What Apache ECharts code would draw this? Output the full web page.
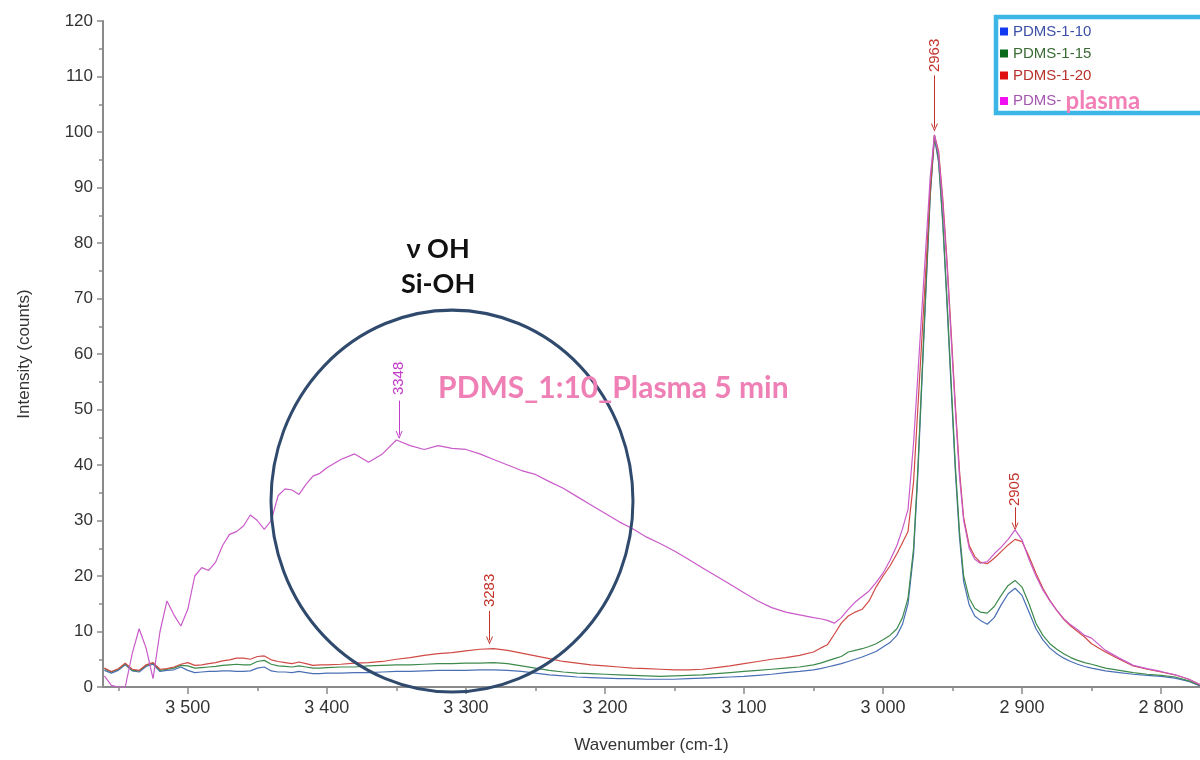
<!DOCTYPE html>
<html><head><meta charset="utf-8">
<script src="https://cdn.jsdelivr.net/npm/echarts@6/dist/echarts.min.js"></script>
<style>html,body{margin:0;padding:0;background:#fff}#c{width:1200px;height:760px}</style>
</head><body><div id="c"></div><script>
// ---- data ----
const wavenumbers = [
 3560,3555,3550,3545,3540,3535,3530,3525,3520,3515,3510,3505,3500,3495,3490,3485,3480,3475,3470,3465,3460,3455,3450,3445,3440,3435,3430,3425,3420,3415,3410,3405,3400,
 3390,3380,3370,3360,3350,3340,3330,3320,3310,3300,3290,3280,3270,3260,3250,3240,3230,3220,3210,3200,3190,3180,3170,3160,3150,3140,3130,3120,3110,3100,3090,3080,3070,3060,3050,
 3045,3040,3035,3030,3025,3020,3015,3010,3005,3000,2995,2990,2986,2982,2978,2975,2972,2969,2966,2963,2960,2957,2954,2951,2948,2945,2942,2938,2934,2930,2925,2920,2915,2910,2905,2900,2895,2890,2885,2880,2875,2870,2865,2860,2855,2850,
 2840,2830,2820,2810,2800,2790,2780,2772];

const pdms_1_10 = [
 3.0,2.5,3.0,4.0,2.9,2.7,3.7,4.1,2.8,3.0,3.1,3.6,3.0,2.6,2.7,2.8,2.8,2.9,2.9,2.8,2.8,2.9,3.4,3.6,2.9,2.7,2.7,2.6,2.8,2.6,2.4,2.4,2.5,
 2.5,2.6,2.6,2.7,2.8,2.8,2.9,3.0,3.0,3.0,3.1,3.1,3.0,2.8,2.5,2.2,2.0,1.8,1.7,1.6,1.5,1.5,1.4,1.4,1.4,1.5,1.6,1.7,1.8,1.9,2.1,2.3,2.6,2.8,3.1,
 3.3,3.6,3.9,4.2,4.6,5.0,5.4,5.9,6.4,7.2,8.0,9.3,11.3,15,24,38,55,72,88.5,99,94.5,83.5,69,54,39,27,19,14.8,12.8,12,11.3,12.5,14.8,16.8,17.8,16.5,13.5,10.5,8.5,7.0,6.0,5.2,4.6,4.1,3.7,3.4,
 2.9,2.6,2.3,2.1,1.9,1.6,1.0,0.2];

const pdms_1_15 = [
 3.3,2.7,3.2,4.2,3.0,2.9,3.9,4.3,3.0,3.2,3.4,3.9,3.8,3.4,3.5,3.6,3.7,3.9,4.0,4.1,4.0,4.0,4.6,4.8,4.1,3.8,3.7,3.6,3.8,3.6,3.4,3.4,3.5,
 3.6,3.6,3.8,3.9,4.0,4.0,4.1,4.2,4.2,4.3,4.3,4.4,4.2,3.8,3.4,3.0,2.7,2.5,2.4,2.3,2.2,2.1,2.0,1.9,2.0,2.1,2.2,2.4,2.6,2.8,3.0,3.2,3.4,3.6,4.0,
 4.3,4.7,5.1,5.5,6.3,6.6,6.9,7.3,7.8,8.5,9.3,10.5,12.5,16,25,39,56,73,89,99.3,95,84,70,55,40,28,20,16,14.2,13.5,13.3,14.5,16.5,18.3,19.2,18,15,11.5,9.3,7.8,6.8,6.0,5.3,4.8,4.4,4.1,
 3.4,3.0,2.6,2.3,2.1,1.8,1.1,0.3];

const pdms_1_20 = [
 3.4,2.8,3.3,4.3,3.2,3.0,4.0,4.4,3.2,3.3,3.6,4.1,4.4,3.9,4.0,4.2,4.4,4.7,4.9,5.2,5.2,5.0,5.5,5.6,4.9,4.6,4.4,4.2,4.5,4.2,3.9,4.0,4.0,
 4.1,4.3,4.4,4.6,5.0,5.3,5.7,6.0,6.2,6.5,6.8,6.9,6.6,6.1,5.6,5.1,4.6,4.3,4.0,3.8,3.6,3.4,3.3,3.2,3.1,3.1,3.2,3.5,3.8,4.2,4.6,5.0,5.3,5.7,6.3,
 7.0,7.6,9.5,11.5,12.8,13.5,14.0,15.5,18.0,20,21.8,24,26,28,37,50,63,76,90,99.5,96.5,88,77,64,51,39,30.5,25.5,23.5,22.5,22.2,23.2,24.4,25.6,26.6,26.2,23.5,20.5,17.8,15.6,13.8,12.2,11.0,10.0,9.0,7.8,
 6.3,5.0,3.8,3.2,2.7,2.2,1.4,0.4];

const pdms_plasma = [
 2.0,0.3,0,0,6,10.5,7,1.5,10,15.5,13,11,14,20,21.5,21,22.5,25.5,27.5,28,29,31,30,28.4,30,34.5,35.7,35.5,34.7,36.5,38,38.5,39.5,
 41,42,40.5,42,44.5,43.5,42.8,43.5,43,42.8,42,41,40,39,38.3,37,35.8,34.3,32.8,31.3,29.8,28.5,27,25.8,24.5,23,21.5,20,18.5,17,15.5,14.3,13.5,13,12.5,
 12.3,12.0,11.5,12.5,14.0,15.3,16.3,17.3,18.8,20.5,22.8,25.5,28.5,32,44,56,68,80,92,99.5,96,87,76,63,50,38,30,25,23,22.3,22.6,24,25.2,26.6,28.3,26.5,23,20,17.5,15.5,13.8,12.3,11.2,10.3,9.3,8.8,
 6.6,5.2,3.9,3.3,2.8,2.2,1.4,0.4];

const seriesNames = ['PDMS-1-10','PDMS-1-15','PDMS-1-20','PDMS- plasma'];
const xTickLabels = [3500,3400,3300,3200,3100,3000,2900,2800];
const xMinorTicks = [3550,3450,3350,3250,3150,3050,2950,2850];
// peak annotations: [wavenumber, label-centre value, arrow start, arrow end]
const redPeaks = [[2963,113.8,110.2,100.8],[2905,35.6,32.4,28.9],[3283,17.4,13.7,8.4]];
const plasmaPeaks = [[3348,55.6,51.6,45.4]];

// ---- chart ----
const chart = echarts.init(document.getElementById('c'));
const pts = vals => wavenumbers.map((w,i)=>[w, vals[i]]);
const fmt = v => String(v).replace(/\B(?=(\d{3})+$)/, ' ');
const AX = '#8a8a8a', TXT = '#333';
const lineColors = ['#4a6fb5','#3d8a4c','#d04a46','#c95bc9'];
const legendIcon = ['#1238f0','#0a6b1a','#e01010','#f010f0'];
const legendText = ['#3c4fa8','#3a6b34','#b8322c','#a455b0'];
const chevron = 'path://M0,10 L5,0 L10,10 L8.6,10 L5,2.8 L1.4,10 Z';

function peakMarks(list, color){
  return {
    markPoint:{symbol:'rect', symbolSize:1, silent:true, itemStyle:{color:'rgba(0,0,0,0)'},
      label:{show:true, position:'inside', rotate:90, color:color, fontSize:15, fontFamily:'Liberation Sans', formatter:p=>p.name},
      data:list.map(p=>({name:String(p[0]), coord:[p[0],p[1]]}))},
    markLine:{silent:true, symbol:['none',chevron], symbolSize:[7,8], animation:false,
      lineStyle:{color:color, width:1, type:'solid'}, label:{show:false},
      data:list.map(p=>[{coord:[p[0],p[2]]},{coord:[p[0],p[3]]}])}
  };
}

const allVals = [pdms_1_10, pdms_1_15, pdms_1_20, pdms_plasma];
const series = allVals.map((vals,i)=>{
  const s = {name:seriesNames[i], type:'line', data:pts(vals), showSymbol:false, symbol:'none',
    lineStyle:{width:1.2, color:lineColors[i]}, itemStyle:{color:lineColors[i]}, z:2+i, silent:true};
  if(i===2) Object.assign(s, peakMarks(redPeaks, '#c4342c'));
  if(i===3) Object.assign(s, peakMarks(plasmaPeaks, '#c23bc9'));
  return s;
});

chart.setOption({
  animation:false,
  backgroundColor:'#fff',
  grid:{left:103, right:0, top:21, bottom:73},
  xAxis:[{
    type:'value', inverse:true, min:2772, max:3561, position:'bottom',
    axisLine:{show:true, onZero:false, lineStyle:{color:AX, width:2}},
    axisTick:{show:true, length:7, customValues:xTickLabels, lineStyle:{color:AX, width:1.5}},
    axisLabel:{customValues:xTickLabels, formatter:fmt, fontSize:18, color:TXT, margin:12, fontFamily:'Liberation Sans'},
    splitLine:{show:false},
    name:'Wavenumber (cm-1)', nameLocation:'middle', nameGap:50,
    nameTextStyle:{fontSize:17, color:TXT, fontFamily:'Liberation Sans'}
  },{
    type:'value', inverse:true, min:2772, max:3561, position:'bottom',
    axisLine:{show:false, onZero:false},
    axisTick:{show:true, length:4, customValues:xMinorTicks, lineStyle:{color:AX, width:1.5}},
    axisLabel:{show:false}, splitLine:{show:false}
  }],
  yAxis:{
    type:'value', min:0, max:120, interval:10,
    axisLine:{show:true, lineStyle:{color:AX, width:2}},
    axisTick:{show:true, length:6, lineStyle:{color:AX, width:1.5}},
    minorTick:{show:true, splitNumber:2, length:4, lineStyle:{color:AX, width:1.5}},
    axisLabel:{fontSize:17, color:TXT, margin:10, fontFamily:'Liberation Sans'},
    splitLine:{show:false},
    name:'Intensity (counts)', nameLocation:'middle', nameGap:70, nameRotate:90,
    nameTextStyle:{fontSize:17, color:TXT, fontFamily:'Liberation Sans'}
  },
  legend:{
    orient:'vertical', left:996, top:17, icon:'rect', itemWidth:8, itemHeight:8, itemGap:5,
    backgroundColor:'#fff', borderColor:'#3cb6e6', borderWidth:4.5, borderRadius:0,
    padding:[6,90,0,4], selectedMode:false,
    textStyle:{fontSize:15, fontFamily:'Liberation Sans', lineHeight:17},
    formatter:n => n==='PDMS- plasma' ? 'PDMS- {p|plasma}' : n,
    data:seriesNames.map((n,i)=>({name:n, itemStyle:{color:legendIcon[i]},
      textStyle:{color:legendText[i], fontSize:15, lineHeight:17,
        rich:{p:{color:'#f27fb6', fontSize:24, fontWeight:'bold', fontFamily:'Lato', lineHeight:17}}}}))
  },
  series:series
});

// annotations placed in data coordinates
const P = (w,v)=>chart.convertToPixel({gridIndex:0},[w,v]);
const c = P(3310, 33.5);
const t1 = P(3320, 78.8), t2 = P(3320, 72.6), t3 = P(3320, 53.9);
chart.setOption({graphic:[
  {type:'circle', x:c[0], y:c[1], scaleY:1.055, shape:{cx:0, cy:0, r:181},
   style:{fill:'none', stroke:'#2f4a6d', lineWidth:3, strokeNoScale:true}, z:10, silent:true},
  {type:'text', x:t1[0], y:t1[1], style:{text:'ν OH', fontSize:27, fontWeight:'bold', fontFamily:'Lato', fill:'#111', align:'center', verticalAlign:'middle'}, z:10},
  {type:'text', x:t2[0], y:t2[1], style:{text:'Si-OH', fontSize:27, fontWeight:'bold', fontFamily:'Lato', fill:'#111', align:'center', verticalAlign:'middle'}, z:10},
  {type:'text', x:t3[0], y:t3[1], style:{text:'PDMS_1:10_Plasma 5 min', fontSize:30, fontWeight:'bold', fontFamily:'Lato', fill:'#ef80b6', align:'left', verticalAlign:'middle'}, z:10}
]});
</script></body></html>
